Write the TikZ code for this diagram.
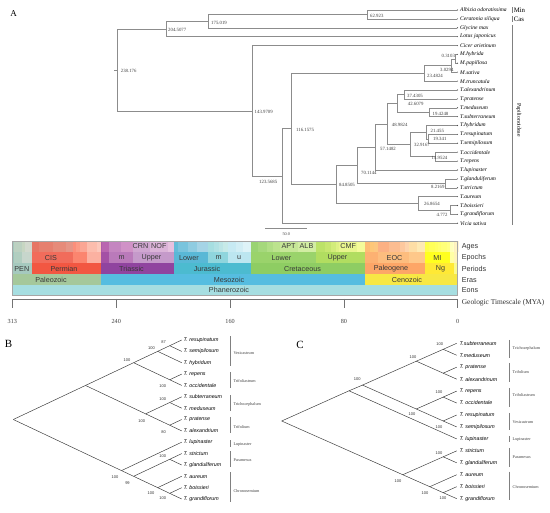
\documentclass[tikz,border=0pt]{standalone}
\usepackage{fontspec}
\setmainfont{Liberation Serif}
\setsansfont{Liberation Sans}
\newcommand\gcell[5]{\definecolor{gtmp}{HTML}{#5}\fill[gtmp!88!white] ({457.7-1.4227*(#1)},#3) rectangle ({457.7-1.4227*(#2)},#4);}
\newcommand\gAge[3]{\gcell{#1}{#2}{241}{251.7}{#3}}
\newcommand\gEpo[3]{\gcell{#1}{#2}{251.7}{263.3}{#3}}
\newcommand\gPer[3]{\gcell{#1}{#2}{263.3}{274}{#3}}
\newcommand\gEra[3]{\gcell{#1}{#2}{274}{285}{#3}}
\newcommand\gEon[3]{\gcell{#1}{#2}{285}{295.7}{#3}}
\newcommand\leafA[3]{\coordinate (a#1) at (456.5,#2);\node[tipA] (la#1) at (460,#2) {#3};}
\newcommand\leafB[3]{\coordinate (bt#1) at (181.7,#2);\node[tipB] (lbt#1) at (183.5,#2) {#3};}
\newcommand\leafC[3]{\coordinate (ct#1) at (456.7,#2);\node[tipB] (lct#1) at (459.5,#2) {#3};}
\begin{document}
\begin{tikzpicture}[x=1pt,y=-1pt,
  brA/.style={draw=black!45, line width=0.55pt},
  brB/.style={draw=black!80, line width=0.45pt},
  tipA/.style={font=\fontsize{5.6}{6}\selectfont\itshape, anchor=west, inner sep=0pt},
  nlA/.style={font=\fontsize{4.8}{5}\selectfont, anchor=west, inner sep=0pt, text=black!75},
  tipB/.style={font=\sffamily\fontsize{5.3}{6}\selectfont\itshape, anchor=west, inner sep=0pt},
  supB/.style={font=\sffamily\fontsize{4}{4.5}\selectfont, inner sep=0pt, text=black!80},
  clB/.style={font=\fontsize{4.2}{5}\selectfont, anchor=west, inner sep=0pt, text=black!75},
  clbar/.style={draw=black!50, line width=0.5pt},
  gt/.style={font=\sffamily\fontsize{7.2}{8}\selectfont, inner sep=0pt, text=black!78},
  rowlab/.style={font=\sffamily\fontsize{7.2}{8}\selectfont, inner sep=0pt, anchor=west, text=black!80},
  pan/.style={font=\fontsize{11}{12}\selectfont, inner sep=0pt}]
\useasboundingbox (0,0) rectangle (550,513);
\fill[white] (0,0) rectangle (550,513);

% ================= Panel A tree =================
\node[pan, font=\fontsize{9}{10}\selectfont] (pA) at (13.5,13.3) {A};
\leafA{0}{10.0}{Albizia odoratissima}
\leafA{1}{18.9}{Ceratonia siliqua}
\leafA{2}{27.8}{Glycine max}
\leafA{3}{36.7}{Lotus japonicus}
\leafA{4}{45.6}{Cicer arietinum}
\leafA{5}{54.4}{M.hybrida}
\leafA{6}{63.3}{M.papillosa}
\leafA{7}{72.2}{M.sativa}
\leafA{8}{81.1}{M.truncatula}
\leafA{9}{90.0}{T.alexandrinum}
\leafA{10}{98.9}{T.pratense}
\leafA{11}{107.8}{T.meduseum}
\leafA{12}{116.7}{T.subterraneum}
\leafA{13}{125.5}{T.hybridum}
\leafA{14}{134.4}{T.resupinatum}
\leafA{15}{143.3}{T.semipilosum}
\leafA{16}{152.2}{T.occidentale}
\leafA{17}{161.1}{T.repens}
\leafA{18}{170.0}{T.lupinaster}
\leafA{19}{178.9}{T.glanduliferum}
\leafA{20}{187.8}{T.strictum}
\leafA{21}{196.6}{T.aureum}
\leafA{22}{205.5}{T.boissieri}
\leafA{23}{214.4}{T.grandiflorum}
\leafA{24}{223.3}{Vicia sativa}

\coordinate (n62) at (367.7,14.45);
\coordinate (n175) at (208.3,21.1);
\coordinate (n204) at (166,28.9);
\coordinate (rootA) at (117.7,69.85);
\coordinate (rootStub) at (114.3,69.85);
\coordinate (n143) at (252.7,110.8);
\coordinate (n123) at (282.2,176.0);
\coordinate (n116) at (291.7,128.75);
\coordinate (n23) at (424,73.3);
\coordinate (n3) at (451.2,65.5);
\coordinate (n0) at (455,58.85);
\coordinate (n84) at (336.5,184.2);
\coordinate (n70) at (357,165.15);
\coordinate (n57) at (375.5,146.95);
\coordinate (n48) at (387.5,123.9);
\coordinate (n42) at (397,103.35);
\coordinate (n37) at (404,94.45);
\coordinate (n19a) at (429,112.25);
\coordinate (n32) at (410,144.4);
\coordinate (n21) at (426.5,132.2);
\coordinate (n19b) at (428.5,138.85);
\coordinate (n14) at (435,156.65);
\coordinate (n8) at (445.5,183.35);
\coordinate (n26) at (418,203.3);
\coordinate (n4) at (450,209.95);

\draw[brA] (rootStub) -- (rootA);
\foreach \p/\c in {rootA/n204, rootA/n143, n204/n175, n204/a3, n175/n62, n175/a2,
  n62/a0, n62/a1, n143/a4, n143/n123, n123/n116, n123/a24, n116/n23, n116/n84,
  n23/n3, n23/a8, n3/n0, n3/a7, n0/a5, n0/a6, n84/n70, n84/n26, n70/n57, n70/n8,
  n57/n48, n57/a18, n48/n42, n48/n32, n42/n37, n42/n19a, n37/a9, n37/a10,
  n19a/a11, n19a/a12, n32/n21, n32/n14, n21/a13, n21/n19b, n19b/a14, n19b/a15,
  n14/a16, n14/a17, n8/a19, n8/a20, n26/a21, n26/n4, n4/a22, n4/a23}
  {\draw[brA] (\p) |- (\c);}
\foreach \i in {0,...,24} {\fill[black!70] (a\i) ++(1pt,0) circle (0.55pt);}

\node[nlA] (l62) at (370,16.2) {62.923};
\node[nlA] (l175) at (211,22.9) {175.019};
\node[nlA] (l204) at (168,29.8) {204.5077};
\node[nlA] (lroot) at (120.7,70.9) {238.176};
\node[nlA] (l143) at (254.5,111.9) {143.9709};
\node[nlA] (l123) at (259,181.9) {123.5685};
\node[nlA] (l116) at (296,130.2) {116.1575};
\node[nlA] (l0) at (441.5,55.5) {0.3103};
\node[nlA] (l3) at (440,70.0) {3.0294};
\node[nlA] (l23) at (427,75.5) {23.4824};
\node[nlA] (l37) at (407,95.9) {37.4305};
\node[nlA] (l42) at (407.7,104.3) {42.6079};
\node[nlA] (l19a) at (432.5,113.5) {19.4248};
\node[nlA] (l48) at (391.7,125.2) {48.9824};
\node[nlA] (l21) at (430.5,131.2) {21.455};
\node[nlA] (l19b) at (433,139.2) {19.341};
\node[nlA] (l32) at (414,145.3) {32.9167};
\node[nlA] (l57) at (380,148.6) {57.1482};
\node[nlA] (l14) at (431.5,157.5) {14.9524};
\node[nlA] (l70) at (361,172.5) {70.1144};
\node[nlA] (l84) at (339,185.2) {84.8505};
\node[nlA] (l8) at (431,186.9) {8.2169};
\node[nlA] (l26) at (424,203.5) {26.8654};
\node[nlA] (l4) at (436.5,214.5) {4.772};

\coordinate (sb1) at (265,228.6);
\coordinate (sb2) at (307.3,228.6);
\draw[brA] (sb1) -- (sb2);
\node[nlA, anchor=center, font=\fontsize{4.2}{5}\selectfont] (sbl) at (286.2,234.6) {50.0};

\coordinate (minT) at (512.6,7.3); \coordinate (minB) at (512.6,12.7);
\coordinate (casT) at (512.6,16.3); \coordinate (casB) at (512.6,21.7);
\coordinate (papT) at (512.6,24.8); \coordinate (papB) at (512.6,225.5);
\draw[clbar] (minT) -- (minB);
\draw[clbar] (casT) -- (casB);
\draw[clbar] (papT) -- (papB);
\node[inner sep=0pt, anchor=west, font=\fontsize{6.8}{7}\selectfont] (tMin) at (513.6,10.0) {Min};
\node[inner sep=0pt, anchor=west, font=\fontsize{6.8}{7}\selectfont] (tCas) at (513.6,19.2) {Cas};
\node[inner sep=0pt, rotate=-90, font=\fontsize{5.7}{6}\selectfont] (tPap) at (518.8,120) {Papilionoideae};

% ================= Geologic timescale =================
% Ages
\gAge{313}{311.7}{99C2B5}\gAge{311.7}{306.5}{B3CBB9}\gAge{306.5}{303.9}{BFD0BA}\gAge{303.9}{299}{CCD4C7}
\gAge{299}{294.6}{E36350}\gAge{294.6}{284.4}{E36F5C}\gAge{284.4}{275.6}{E37B68}\gAge{275.6}{270.6}{E38776}
\gAge{270.6}{268}{FB8069}\gAge{268}{265.8}{FB8D76}\gAge{265.8}{260.4}{FB9A85}\gAge{260.4}{253.8}{FCB4A2}\gAge{253.8}{251}{FCC0B2}
\gAge{251}{249.7}{A4469F}\gAge{249.7}{245}{B051A5}\gAge{245}{237}{BC75B7}\gAge{237}{228}{C983BF}
\gAge{228}{216.5}{C99BCB}\gAge{216.5}{203.6}{D6AAD3}\gAge{203.6}{199.6}{E3B9DB}
\gAge{199.6}{196.5}{4EB3D3}\gAge{196.5}{189.6}{67BCD8}\gAge{189.6}{183}{80C5DD}\gAge{183}{175.6}{99CEE3}
\gAge{175.6}{171.6}{9AD9DD}\gAge{171.6}{167.7}{A6DDE0}\gAge{167.7}{164.7}{B3E2E3}\gAge{164.7}{161.2}{BFE7E5}
\gAge{161.2}{155.7}{BFE7F1}\gAge{155.7}{150.8}{CCECF4}\gAge{150.8}{145.5}{D9F1F7}
\gAge{145.5}{140.2}{8CCD60}\gAge{140.2}{133.9}{99D36A}\gAge{133.9}{130}{A6D975}\gAge{130}{125}{B3DF7F}
\gAge{125}{112}{BFE48A}\gAge{112}{99.6}{CCEA97}\gAge{99.6}{93.5}{B3DE53}\gAge{93.5}{89.3}{BFE35D}
\gAge{89.3}{85.8}{CCE968}\gAge{85.8}{83.5}{D9EF74}\gAge{83.5}{70.6}{E6F47F}\gAge{70.6}{65.5}{F2FA8C}
\gAge{65.5}{61.7}{FDB462}\gAge{61.7}{58.7}{FEBF65}\gAge{58.7}{55.8}{FDBF6F}\gAge{55.8}{48.6}{FCA773}
\gAge{48.6}{40.4}{FCB482}\gAge{40.4}{37.2}{FDC091}\gAge{37.2}{33.9}{FDCDA1}\gAge{33.9}{28.4}{FED99A}\gAge{28.4}{23.03}{FEE6AA}
\gAge{23.03}{20.43}{FFFF33}\gAge{20.43}{15.97}{FFFF41}\gAge{15.97}{13.65}{FFFF4D}\gAge{13.65}{11.61}{FFFF59}
\gAge{11.61}{7.246}{FFFF66}\gAge{7.246}{5.332}{FFFF73}\gAge{5.332}{3.6}{FFFFB3}\gAge{3.6}{2.588}{FFFFBF}
\gAge{2.588}{1.806}{FFEDB3}\gAge{1.806}{0.781}{FFF2BA}\gAge{0.781}{0.126}{FFF2C7}\gAge{0.126}{0}{FFF2D3}
% Epochs
\gEpo{313}{311.7}{8CBEB4}\gEpo{311.7}{306.5}{A6C7B7}\gEpo{306.5}{299}{BFD0C5}
\gEpo{299}{270.6}{EF5845}\gEpo{270.6}{260.4}{FB745C}\gEpo{260.4}{251}{FBA794}
\gEpo{251}{245}{983999}\gEpo{245}{228}{B168B1}\gEpo{228}{199.6}{BD8CC3}
\gEpo{199.6}{175.6}{42AED0}\gEpo{175.6}{161.2}{80CFD8}\gEpo{161.2}{145.5}{B3E3EE}
\gEpo{145.5}{99.6}{8CCD57}\gEpo{99.6}{65.5}{A6D84A}
\gEpo{65.5}{55.8}{FDA75F}\gEpo{55.8}{33.9}{FDB46C}\gEpo{33.9}{23.03}{FEC07A}
\gEpo{23.03}{5.332}{FFFF00}\gEpo{5.332}{2.588}{FFFF99}\gEpo{2.588}{0}{FFF2AE}
% Periods
\gPer{313}{299}{99C2B5}\gPer{299}{251}{F04028}\gPer{251}{199.6}{812B92}\gPer{199.6}{145.5}{34B2C9}
\gPer{145.5}{65.5}{7FC64E}\gPer{65.5}{23.03}{FD9A52}\gPer{23.03}{2.588}{FFE619}\gPer{2.588}{0}{F9F97F}
% Eras
\gEra{313}{251}{99C08D}\gEra{251}{65.5}{3FB4DC}\gEra{65.5}{0}{F6E52A}
% Eon
\gEon{313}{0}{9AD9DD}
\draw[black!35, line width=0.5pt] (12.3,241) rectangle (457.7,295.7);

\node[gt] (tCRN) at (140.5,246.5) {CRN};
\node[gt] (tNOR) at (158.8,246.5) {NOF};
\node[gt] (tAPT) at (288.5,246.5) {APT};
\node[gt] (tALB) at (306.5,246.5) {ALB};
\node[gt] (tCMP) at (348.2,246.5) {CMF};
\node[gt] (tCIS) at (51,257.6) {CIS};
\node[gt] (tTm) at (121.5,257.6) {m};
\node[gt] (tTu) at (151.5,257.6) {Upper};
\node[gt] (tJl) at (189,257.6) {Lower};
\node[gt] (tJm) at (218.5,257.6) {m};
\node[gt] (tJu) at (239.2,257.6) {u};
\node[gt] (tKl) at (281.5,257.6) {Lower};
\node[gt] (tKu) at (337.5,257.6) {Upper};
\node[gt] (tEOC) at (394.5,257.6) {EOC};
\node[gt] (tMI) at (437.3,257.6) {MI};
\node[gt] (tPEN) at (21.8,268.8) {PEN};
\node[gt] (tPerm) at (64,268.8) {Permian};
\node[gt] (tTri) at (131.5,268.8) {Triassic};
\node[gt] (tJur) at (207,268.8) {Jurassic};
\node[gt] (tCre) at (302.5,268.8) {Cretaceous};
\node[gt] (tPal) at (391,268.8) {Paleogene};
\node[gt] (tNg) at (440.5,268.8) {Ng};
\node[gt] (tPz) at (51,279.6) {Paleozoic};
\node[gt] (tMz) at (229,279.6) {Mesozoic};
\node[gt] (tCz) at (407,279.6) {Cenozoic};
\node[gt] (tPh) at (229,290.4) {Phanerozoic};

\node[rowlab] (rAges) at (461.7,246.5) {Ages};
\node[rowlab] (rEpo) at (461.7,257.6) {Epochs};
\node[rowlab] (rPer) at (461.7,268.8) {Periods};
\node[rowlab] (rEra) at (461.7,279.6) {Eras};
\node[rowlab] (rEon) at (461.7,290.4) {Eons};
\node[inner sep=0pt, anchor=west, font=\fontsize{7.4}{8}\selectfont, text=black!80] (rGeo) at (461.7,302.8) {Geologic Timescale (MYA)};

\coordinate (ax0) at (12.3,299); \coordinate (ax1) at (457.7,299);
\draw[black!55, line width=0.5pt] (ax0) -- (ax1);
\foreach \t/\x in {313/12.3, 240/116.2, 160/230.1, 80/343.9, 0/457.7}{
  \draw[black!55, line width=0.5pt] (\x,299) -- (\x,308);
  \node[inner sep=0pt, font=\fontsize{6.2}{7}\selectfont, text=black!75] (tk\t) at (\x,321.5) {\t};
}

% ================= Panel B =================
\node[pan] (pB) at (8.5,343.5) {B};
\leafB{0}{340.0}{T. resupinatum}
\leafB{1}{351.4}{T. semipilosum}
\leafB{2}{362.7}{T. hybridum}
\leafB{3}{374.1}{T. repens}
\leafB{4}{385.4}{T. occidentale}
\leafB{5}{396.8}{T. subterraneum}
\leafB{6}{408.2}{T. meduseum}
\leafB{7}{419.5}{T. pratense}
\leafB{8}{430.9}{T. alexandrium}
\leafB{9}{442.2}{T. lupinaster}
\leafB{10}{453.6}{T. strictum}
\leafB{11}{465.0}{T. glanduliferum}
\leafB{12}{476.3}{T. aureum}
\leafB{13}{487.7}{T. boissieri}
\leafB{14}{499.0}{T. grandiflorum}
\coordinate (bR) at (13.3,419.5);
\coordinate (b8) at (85.5,385.45);
\coordinate (b4) at (133.6,362.7);
\coordinate (b2) at (157.7,351.35);
\coordinate (b1) at (169.7,345.7);
\coordinate (b3) at (169.7,379.75);
\coordinate (b7) at (145.6,413.85);
\coordinate (b5) at (169.7,402.5);
\coordinate (b6) at (169.7,425.2);
\coordinate (b13) at (121.5,470.6);
\coordinate (b12) at (133.6,476.3);
\coordinate (b9) at (169.7,459.3);
\coordinate (b11) at (157.7,487.65);
\coordinate (b10) at (169.7,493.35);
\foreach \p/\c in {bR/b8, bR/b13, b8/b4, b8/b7, b4/b2, b4/b3, b2/b1, b2/bt2, b1/bt0, b1/bt1,
  b3/bt3, b3/bt4, b7/b5, b7/b6, b5/bt5, b5/bt6, b6/bt7, b6/bt8, b13/bt9, b13/b12,
  b12/b9, b12/b11, b9/bt10, b9/bt11, b11/bt12, b11/b10, b10/bt13, b10/bt14}
  {\draw[brB] (\p) -- (\c);}
\node[supB] (sb1x) at (163.5,342.3) {87};
\node[supB] (sb2x) at (151.5,348.3) {100};
\node[supB] (sb3x) at (162.7,386.2) {100};
\node[supB] (sb4x) at (127,360.0) {100};
\node[supB] (sb5x) at (162.7,399.3) {100};
\node[supB] (sb6x) at (163.5,431.7) {80};
\node[supB] (sb7x) at (141.7,420.7) {100};
\node[supB] (sb9x) at (162.7,456.0) {100};
\node[supB] (sb13x) at (115,476.7) {100};
\node[supB] (sb12x) at (127.5,483.3) {99};
\node[supB] (sb11x) at (151,492.7) {100};
\node[supB] (sb10x) at (162.7,498.3) {100};
\foreach \n/\a/\b/\m/\t in {Ves/336.5/366.2/352.7/Vesicastrum, Trfa/372.3/388/380.7/Trifoliastrum,
  Tric/395.5/410.7/404.3/Trichocephalum, Trfl/417/433.5/426.7/Trifolium, Lup/440.5/446.7/444.5/Lupinaster,
  Par/451.2/467/460/Paramesus, Chr/472.5/502/491/Chronosemium}{
  \coordinate (bk\n1) at (230,\a); \coordinate (bk\n2) at (230,\b);
  \draw[clbar] (bk\n1) -- (bk\n2);
  \node[clB] (bl\n) at (233.3,\m) {\t};
}

% ================= Panel C =================
\node[pan] (pC) at (300,345) {C};
\leafC{0}{343.3}{T.subterraneum}
\leafC{1}{355.25}{T.meduseum}
\leafC{2}{367.2}{T. pratense}
\leafC{3}{379.15}{T. alexandrinum}
\leafC{4}{391.1}{T. repens}
\leafC{5}{403.05}{T. occidentale}
\leafC{6}{415.0}{T. resupinatum}
\leafC{7}{426.95}{T. semipilosum}
\leafC{8}{438.9}{T. lupinaster}
\leafC{9}{450.85}{T. strictum}
\leafC{10}{462.8}{T. glanduliferum}
\leafC{11}{474.75}{T. aureum}
\leafC{12}{486.7}{T. boissieri}
\leafC{13}{498.65}{T. grandiflorum}
\coordinate (cR) at (281.7,421.0);
\coordinate (cN9) at (349.0,390.8);
\coordinate (cN8) at (362.5,385.1);
\coordinate (cA4) at (416.3,361.2);
\coordinate (cB4) at (416.3,409.0);
\coordinate (cSM) at (443.2,349.3);
\coordinate (cPA) at (443.2,373.2);
\coordinate (cRO) at (443.2,397.1);
\coordinate (cRS) at (443.2,421.0);
\coordinate (cN5) at (402.8,474.75);
\coordinate (cSG) at (443.2,456.8);
\coordinate (cN3) at (429.8,486.7);
\coordinate (cBG) at (443.2,492.7);
\foreach \p/\c in {cR/cN9, cR/cN5, cN9/cN8, cN9/ct8, cN8/cA4, cN8/cB4, cA4/cSM, cA4/cPA,
  cSM/ct0, cSM/ct1, cPA/ct2, cPA/ct3, cB4/cRO, cB4/cRS, cRO/ct4, cRO/ct5, cRS/ct6, cRS/ct7,
  cN5/cSG, cN5/cN3, cSG/ct9, cSG/ct10, cN3/ct11, cN3/cBG, cBG/ct12, cBG/ct13}
  {\draw[brB] (\p) -- (\c);}
\node[supB] (scSM) at (439.7,344.3) {100};
\node[supB] (scA4) at (413,356.7) {100};
\node[supB] (scN8) at (357.3,379) {100};
\node[supB] (scRO) at (439,391.7) {100};
\node[supB] (scB4) at (412,414.3) {100};
\node[supB] (scRS) at (439,426.7) {100};
\node[supB] (scSG) at (439,453.3) {100};
\node[supB] (scN5) at (398,481) {100};
\node[supB] (scN3) at (425,492.7) {100};
\node[supB] (scBG) at (443,497.7) {100};
\foreach \n/\a/\b/\m/\t in {Tric/340/358.3/348.3/Trichocephalum, Trfl/363/381.7/371.7/Trifolium,
  Trfa/388/406.7/395/Trifoliastrum, Ves/413/430/421.7/Vesicastrum, Lup/436/441.7/439.3/Lupinaster,
  Par/448/466.7/456.7/Paramesus, Chr/471.7/500/486.7/Chronosemium}{
  \coordinate (ck\n1) at (509.3,\a); \coordinate (ck\n2) at (509.3,\b);
  \draw[clbar] (ck\n1) -- (ck\n2);
  \node[clB] (cl\n) at (512.5,\m) {\t};
}
\end{tikzpicture}
\end{document}
